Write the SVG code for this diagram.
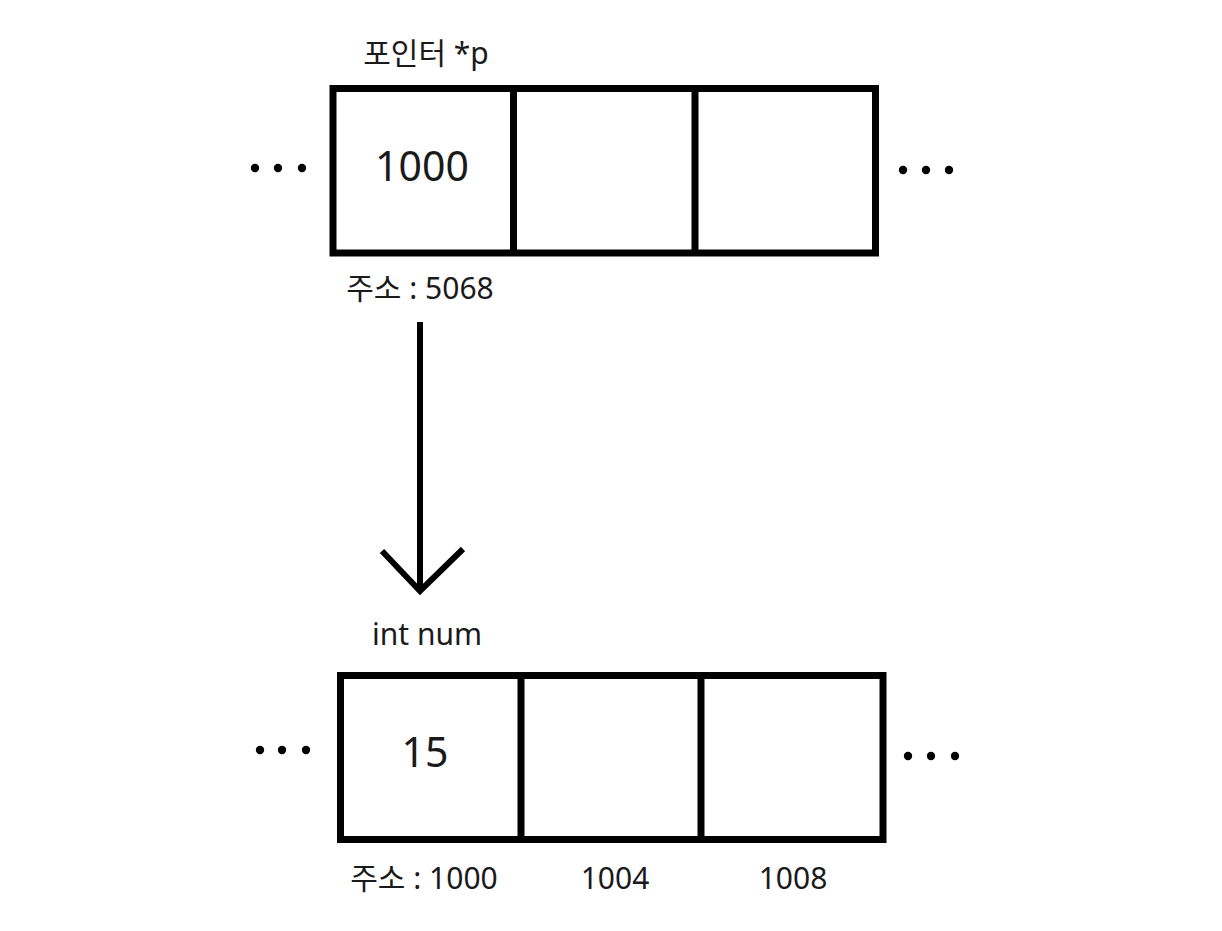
<svg xmlns="http://www.w3.org/2000/svg" width="1222" height="931" viewBox="0 0 1222 931">
<style>
.box{fill:none;stroke:#000;stroke-width:7}
.div{stroke:#000;stroke-width:7}
.t{font-family:"Noto Sans","Noto Sans CJK KR",sans-serif;fill:#1a1a1a;text-anchor:middle}
.lbl{font-size:30px}
.val{font-size:41px}
.dot{fill:#000}
</style>
<rect width="1222" height="931" fill="#fff"/>
<g id="pointer">
<text class="t lbl" x="426" y="64">포인터 *p</text>
<rect class="box" x="333" y="88.5" width="542.5" height="164.5"/>
<line class="div" x1="513.5" y1="88.5" x2="513.5" y2="253"/>
<line class="div" x1="695" y1="88.5" x2="695" y2="253"/>
<text class="t val" x="422" y="181">1000</text>
<text class="t lbl" x="420" y="299">주소 : 5068</text>
<circle class="dot" cx="255" cy="168" r="4.2"/><circle class="dot" cx="278" cy="168" r="4.2"/><circle class="dot" cx="302" cy="168" r="4.2"/>
<circle class="dot" cx="903" cy="170" r="4.2"/><circle class="dot" cx="926" cy="170" r="4.2"/><circle class="dot" cx="949" cy="170" r="4.2"/>
</g>
<g id="num">
<text class="t lbl" x="427" y="645">int num</text>
<rect class="box" x="340.5" y="675.5" width="542.5" height="164"/>
<line class="div" x1="521" y1="675.5" x2="521" y2="839.5"/>
<line class="div" x1="701" y1="675.5" x2="701" y2="839.5"/>
<text class="t val" x="425" y="767">15</text>
<text class="t lbl" x="424" y="889">주소 : 1000</text>
<text class="t lbl" x="615" y="889">1004</text>
<text class="t lbl" x="793" y="889">1008</text>
<circle class="dot" cx="260" cy="750" r="4.2"/><circle class="dot" cx="282" cy="750" r="4.2"/><circle class="dot" cx="306" cy="750" r="4.2"/>
<circle class="dot" cx="908" cy="756" r="4.2"/><circle class="dot" cx="931" cy="756" r="4.2"/><circle class="dot" cx="955" cy="756" r="4.2"/>
</g>
<g id="connectors" fill="none" stroke="#000" stroke-width="6">
<line x1="420" y1="322" x2="420" y2="591"/>
<polyline points="382,551 420,591 463,549" stroke-linejoin="miter"/>
</g>
</svg>
